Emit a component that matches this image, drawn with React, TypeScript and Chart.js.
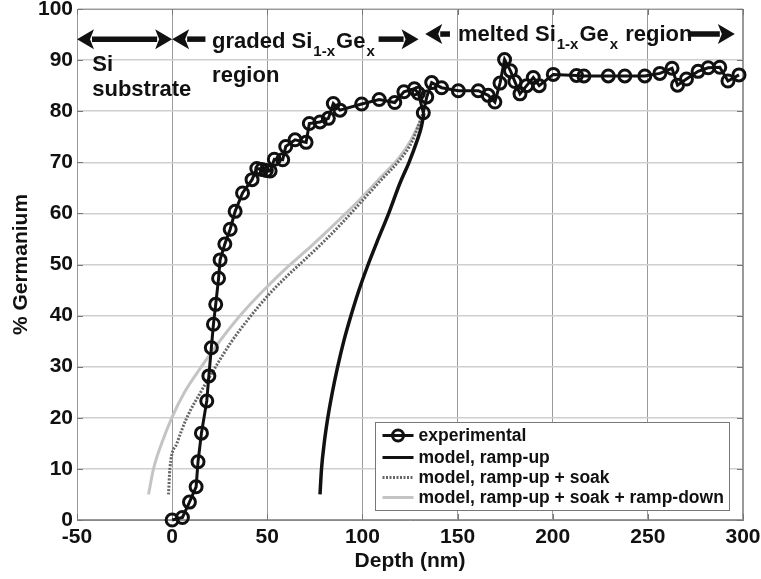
import React, { useEffect, useRef } from 'react';
import { Chart, registerables } from 'chart.js';

Chart.register(...registerables);

// ---- data ----
const expDepth = [
  0, 5.4, 9.1, 12.6, 13.6, 15.4, 18.2, 19.3, 20.6, 21.7, 22.9, 24.4, 25.2, 27.7, 30.5,
  33.1, 37, 42, 44.5, 47.1, 49.5, 51.5, 53.7, 58.1, 59.7, 64.6, 70.4, 72.1, 77.7, 82.1,
  84.7, 88.2, 99.6, 108.8, 117, 121.8, 127.3, 129.4, 132, 133.8, 136.4, 141.6, 150.4,
  160.9, 166.1, 169.6, 172.3, 174.7, 177.8, 180.1, 182.8, 186.3, 189.8, 192.9, 200.3,
  212.5, 216.4, 229.2, 237.9, 248.4, 256.3, 262.7, 265.6, 270.3, 276.4, 281.7, 287.8,
  292.1, 297.9,
];
const expGe = [
  0, 0.5, 3.5, 6.5, 11.4, 17, 23.3, 28.2, 33.7, 38.3, 42.2, 47.3, 50.9, 54, 56.9,
  60.4, 64, 66.6, 68.8, 68.6, 68.4, 68.3, 70.6, 70.5, 73.1, 74.4, 73.9, 77.6, 77.9, 78.6,
  81.5, 80.2, 81.4, 82.3, 81.7, 83.8, 84.4, 83.5, 79.7, 82.8, 85.6, 84.6, 84,
  84, 83.1, 81.8, 85.5, 90.1, 87.9, 85.8, 83.4, 85, 86.6, 85, 87.2,
  87, 86.9, 86.9, 86.9, 86.9, 87.4, 88.4, 85.1, 86.3, 87.8, 88.5, 88.6,
  85.9, 87.1,
];

const rampUpDepth = [77.7, 78.5, 79.9, 81.8, 84.2, 87, 90.2, 94, 98.2, 103, 108.3, 113.8, 119.7, 124.5, 128.5, 131, 132.3];
const rampUpGe = [5, 10, 15, 20, 25, 30, 35, 40, 45, 50, 55, 60, 65.9, 70, 74, 77, 79.6];

const soakDepth = [-1.9, -1.2, 2.5, 7.7, 15.6, 22.9, 31, 40, 50.3, 60, 70.7, 80, 88.2, 100.2, 110, 119.7, 126, 132];
const soakGe = [5, 10, 15, 20, 25.4, 30, 34.8, 39.3, 43.9, 47.6, 51.3, 54.6, 57.7, 62.6, 66.6, 70.5, 74, 79.8];

const downDepth = [-12.4, -9.8, -5.5, -0.2, 6.5, 15, 24, 33, 42, 50.3, 60, 70.7, 80, 88.2, 100.2, 110, 119.7, 125, 131];
const downGe = [5, 10, 15, 20, 25, 29.8, 34.5, 38.8, 42.6, 45.8, 49.3, 52.8, 56, 58.9, 63.3, 67.2, 71.1, 74, 78.5];

const seriesLabels = [
  'experimental',
  'model, ramp-up',
  'model, ramp-up + soak',
  'model, ramp-up + soak + ramp-down',
];

const xMin = -50;
const xMax = 300;
const xStep = 50;
const yMin = 0;
const yMax = 100;
const yStep = 10;

const xTitle = 'Depth (nm)';
const yTitle = '% Germanium';

const FONT = '"Liberation Sans", Arial, Helvetica, sans-serif';
const INK = '#111';

const pts = (xs: number[], ys: number[]) => xs.map((x, i) => ({ x, y: ys[i] }));

type Part = { t: string; sub?: boolean };

function drawRich(ctx: CanvasRenderingContext2D, parts: Part[], x: number, y: number, size: number) {
  let cx = x;
  ctx.textAlign = 'left';
  ctx.textBaseline = 'alphabetic';
  for (const p of parts) {
    const fs = p.sub ? 15 : size;
    ctx.font = `bold ${fs}px ${FONT}`;
    const yy = p.sub ? y + 8 : y;
    const px = p.sub ? cx + 1 : cx;
    ctx.fillText(p.t, px, yy);
    cx = px + ctx.measureText(p.t).width + (p.sub ? 1 : 0);
  }
  return cx;
}

function drawArrow(ctx: CanvasRenderingContext2D, x1: number, x2: number, y: number, headL: boolean, headR: boolean) {
  const hl = 17;
  const hw = 10;
  ctx.save();
  ctx.strokeStyle = INK;
  ctx.fillStyle = INK;
  ctx.lineWidth = 5.5;
  ctx.beginPath();
  ctx.moveTo(headL ? x1 + hl - 2 : x1, y);
  ctx.lineTo(headR ? x2 - hl + 2 : x2, y);
  ctx.stroke();
  if (headL) {
    ctx.beginPath();
    ctx.moveTo(x1, y);
    ctx.lineTo(x1 + hl, y - hw);
    ctx.lineTo(x1 + hl - 4, y);
    ctx.lineTo(x1 + hl, y + hw);
    ctx.closePath();
    ctx.fill();
  }
  if (headR) {
    ctx.beginPath();
    ctx.moveTo(x2, y);
    ctx.lineTo(x2 - hl, y - hw);
    ctx.lineTo(x2 - hl + 4, y);
    ctx.lineTo(x2 - hl, y + hw);
    ctx.closePath();
    ctx.fill();
  }
  ctx.restore();
}

const decorPlugin = {
  id: 'decor',
  beforeDatasetsDraw(chart: any) {
    const { ctx, chartArea: a, scales } = chart;
    ctx.save();
    ctx.strokeStyle = '#999';
    ctx.lineWidth = 1;
    ctx.strokeRect(a.left + 0.5, a.top + 0.5, a.right - a.left - 1, a.bottom - a.top - 1);
    // inward tick marks on all four sides
    ctx.strokeStyle = '#777';
    const tl = 6;
    ctx.beginPath();
    scales.x.ticks.forEach((t: any) => {
      const px = Math.round(scales.x.getPixelForValue(t.value)) + 0.5;
      ctx.moveTo(px, a.bottom);
      ctx.lineTo(px, a.bottom - tl);
      ctx.moveTo(px, a.top);
      ctx.lineTo(px, a.top + tl);
    });
    scales.y.ticks.forEach((t: any) => {
      const py = Math.round(scales.y.getPixelForValue(t.value)) + 0.5;
      ctx.moveTo(a.left, py);
      ctx.lineTo(a.left + tl, py);
      ctx.moveTo(a.right, py);
      ctx.lineTo(a.right - tl, py);
    });
    ctx.stroke();
    ctx.restore();
  },
  afterDraw(chart: any) {
    const { ctx, chartArea: a, scales } = chart;
    const X = (v: number) => scales.x.getPixelForValue(v);
    const Y = (v: number) => scales.y.getPixelForValue(v);
    ctx.save();
    ctx.fillStyle = INK;

    // region arrows
    drawArrow(ctx, X(-50), X(0), Y(94.1), true, true);
    drawArrow(ctx, X(0), X(17.5), Y(94.1), true, false);
    drawArrow(ctx, X(108.5), X(129.5), Y(94.1), false, true);
    drawArrow(ctx, X(133), X(146), Y(95.1), true, false);
    drawArrow(ctx, X(271), X(295.7), Y(95.1), false, true);

    // region labels
    ctx.fillStyle = INK;
    drawRich(ctx, [{ t: 'Si' }], X(-42), Y(87.9), 22);
    drawRich(ctx, [{ t: 'substrate' }], X(-42), Y(83.0), 22);
    drawRich(ctx, [{ t: 'graded Si' }, { t: '1-x', sub: true }, { t: 'Ge' }, { t: 'x', sub: true }], X(21), Y(92.4), 22);
    drawRich(ctx, [{ t: 'region' }], X(21), Y(85.7), 22);
    drawRich(ctx, [{ t: 'melted Si' }, { t: '1-x', sub: true }, { t: 'Ge' }, { t: 'x', sub: true }, { t: ' region' }], X(150.2), Y(93.7), 22);

    // legend
    const w = 354;
    const h = 88;
    const lx = Math.round(a.right - 14 - w) + 0.5;
    const ly = Math.round(a.bottom - 10 - h) + 0.5;
    ctx.fillStyle = '#fff';
    ctx.fillRect(lx, ly, w, h);
    ctx.strokeStyle = '#777';
    ctx.lineWidth = 1;
    ctx.strokeRect(lx, ly, w, h);
    const rows = [13, 35, 55, 75];
    const styles = [
      { c: INK, d: [] as number[], m: true },
      { c: INK, d: [] as number[], m: false },
      { c: '#666', d: [2, 1.5], m: false },
      { c: '#c4c4c4', d: [] as number[], m: false },
    ];
    rows.forEach((dy, i) => {
      const yy = ly + dy;
      ctx.save();
      ctx.strokeStyle = styles[i].c;
      ctx.lineWidth = 3;
      ctx.setLineDash(styles[i].d);
      ctx.beginPath();
      ctx.moveTo(lx + 7, yy);
      ctx.lineTo(lx + 38, yy);
      ctx.stroke();
      ctx.setLineDash([]);
      if (styles[i].m) {
        ctx.lineWidth = 3;
        ctx.beginPath();
        ctx.arc(lx + 22.5, yy, 5.5, 0, Math.PI * 2);
        ctx.stroke();
      }
      ctx.restore();
      ctx.fillStyle = INK;
      ctx.font = `bold 17.5px ${FONT}`;
      ctx.textAlign = 'left';
      ctx.textBaseline = 'middle';
      ctx.fillText(seriesLabels[i], lx + 43, yy + 1);
    });
    ctx.restore();
  },
};

export default function App() {
  const ref = useRef<HTMLCanvasElement | null>(null);
  useEffect(() => {
    if (!ref.current) return;
    const chart = new Chart(ref.current, {
      type: 'line',
      data: {
        datasets: [
          {
            label: seriesLabels[0],
            data: pts(expDepth, expGe),
            borderColor: INK,
            borderWidth: 3,
            pointRadius: 6,
            pointBorderWidth: 3,
            pointBorderColor: INK,
            pointBackgroundColor: 'rgba(0,0,0,0)',
            tension: 0,
            clip: false,
          },
          {
            label: seriesLabels[1],
            data: pts(rampUpDepth, rampUpGe),
            borderColor: INK,
            borderWidth: 3.5,
            pointRadius: 0,
            cubicInterpolationMode: 'monotone',
          },
          {
            label: seriesLabels[2],
            data: pts(soakDepth, soakGe),
            borderColor: '#666',
            borderWidth: 3,
            borderDash: [2, 1.5],
            pointRadius: 0,
            cubicInterpolationMode: 'monotone',
          },
          {
            label: seriesLabels[3],
            data: pts(downDepth, downGe),
            borderColor: '#c4c4c4',
            borderWidth: 3,
            pointRadius: 0,
            cubicInterpolationMode: 'monotone',
          },
        ],
      },
      options: {
        responsive: false,
        animation: false,
        devicePixelRatio: 1,
        layout: { padding: { top: 9, right: 18, left: 0, bottom: 0 } },
        plugins: { legend: { display: false }, tooltip: { enabled: false } },
        scales: {
          x: {
            type: 'linear',
            min: xMin,
            max: xMax,
            ticks: {
              stepSize: xStep,
              color: INK,
              font: { family: FONT, size: 21, weight: 'bold' },
              padding: 5,
              maxRotation: 0,
            },
            grid: { color: '#9a9a9a', lineWidth: 1, drawTicks: false },
            border: { color: '#888', width: 1 },
            title: {
              display: true,
              text: xTitle,
              color: INK,
              font: { family: FONT, size: 21, weight: 'bold' },
              padding: { top: 0, bottom: 5 },
            },
            afterFit: (s: any) => {
              s.height = 59;
              s.paddingLeft = 0;
              s.paddingRight = 0;
            },
          },
          y: {
            type: 'linear',
            min: yMin,
            max: yMax,
            ticks: {
              stepSize: yStep,
              color: INK,
              font: { family: FONT, size: 21, weight: 'bold' },
              padding: 4,
            },
            grid: { color: '#cfcfcf', lineWidth: 1.5, drawTicks: false },
            border: { color: '#888', width: 1 },
            title: {
              display: true,
              text: yTitle,
              color: INK,
              font: { family: FONT, size: 21, weight: 'bold' },
              padding: { top: 9, bottom: 0 },
            },
            afterFit: (s: any) => {
              s.width = 77;
              s.paddingTop = 0;
              s.paddingBottom = 0;
            },
          },
        },
      },
      plugins: [decorPlugin],
    } as any);
    return () => chart.destroy();
  }, []);
  return (
    <div style={{ position: 'fixed', left: 0, top: 0, width: 761, height: 579, background: '#fff' }}>
      <canvas ref={ref} width={761} height={579} style={{ display: 'block' }} />
    </div>
  );
}
